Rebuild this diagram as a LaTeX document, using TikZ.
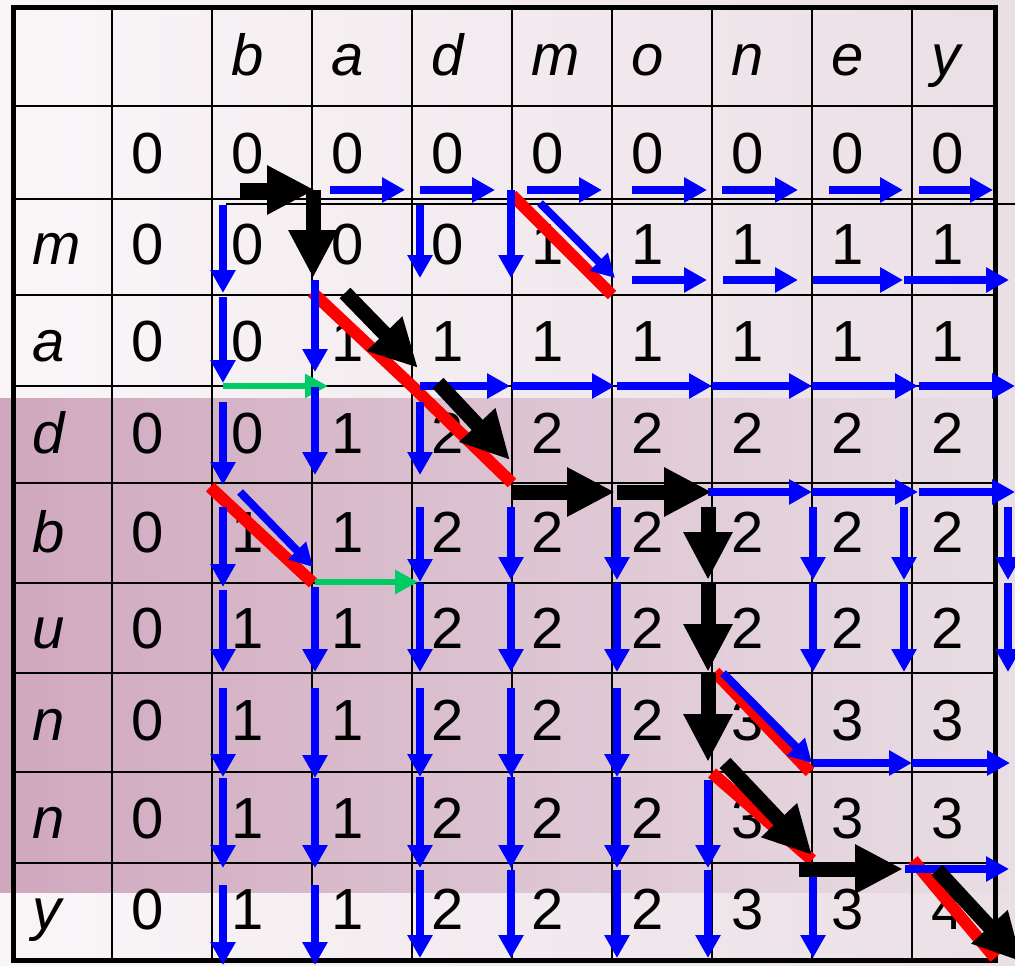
\documentclass[tikz,border=0pt]{standalone}
\usepackage{fontspec}
\setmainfont{Liberation Sans}
\usetikzlibrary{arrows.meta}
\definecolor{bgL}{HTML}{FAF6F8}
\definecolor{bgR}{HTML}{EADFE5}
\definecolor{bandL}{HTML}{D0A8BE}
\definecolor{bandM}{HTML}{D9B9CA}
\definecolor{bandR}{HTML}{E9DEE4}
\definecolor{arrgreen}{HTML}{00CC66}
\newcommand\myH[6]{\draw[#1] ([shift={(#4,#6)}]n#2) -- ([shift={(#5,#6)}]n#3);}
\newcommand\myV[6]{\draw[#1] ([shift={(#6,#4)}]n#2) -- ([shift={(#6,#5)}]n#3);}
\begin{document}
\begin{tikzpicture}[x=1pt,y=-1pt,
  barr/.style={draw=blue, line width=8pt, -{Triangle[length=23pt,width=24pt]}},
  karr/.style={draw=black, line width=15pt, -{Triangle[length=48pt,width=46pt]}},
  garr/.style={draw=arrgreen, line width=6pt, -{Triangle[length=23pt,width=23pt]}},
  redl/.style={draw=red, line width=12pt},
  gridl/.style={draw=black, line width=2pt},
  lbl/.style={anchor=base west, inner sep=0pt},
  numfont/.style={font=\fontsize{58}{60}\selectfont},
  letfont/.style={font=\fontsize{58}{60}\selectfont\itshape}]
\useasboundingbox (0,0) rectangle (1015,966);
% background
\fill[left color=bgL, right color=bgR] (0,0) rectangle (1015,966);
\fill[left color=bandL, middle color=bandM, right color=bandR] (0,398) rectangle (1015,892);
% grid
\foreach \x in {112,212,312,412,512,612,712,812,912} \draw[gridl] (\x,8) -- (\x,960);
\foreach \y in {106,199,295,386,483,583,673,772,863} \draw[gridl] (13,\y) -- (995,\y);
\draw[line width=1.5pt] (226,204) -- (1015,204);
\draw[line width=5pt] (13,8) rectangle (995,960);
% grid points of the edit graph
\foreach \yy [count=\i from 0] in {199,295,386,483,583,673,772,863,960}
  \foreach \j in {0,...,8}
    \coordinate (n\i\j) at ({212+100*\j},\yy);
\coordinate (corner) at (995,960);
% labels
\foreach \c [count=\k from 0] in {b,a,d,m,o,n,e,y}
  \node[lbl,letfont] (h\k) at ({231+100*\k},75) {\c};
\foreach \c/\yy [count=\k] in {m/264,a/361,d/453,b/552,u/648,n/740,n/838,y/929}
  \node[lbl,letfont] (r\k) at (32,\yy) {\c};
\foreach \yy/\vals [count=\i from 0] in {173/{0,0,0,0,0,0,0,0,0},264/{0,0,0,0,1,1,1,1,1},361/{0,0,1,1,1,1,1,1,1},453/{0,0,1,2,2,2,2,2,2},552/{0,1,1,2,2,2,2,2,2},648/{0,1,1,2,2,2,2,2,2},740/{0,1,1,2,2,2,3,3,3},838/{0,1,1,2,2,2,3,3,3},929/{0,1,1,2,2,2,3,3,4}}
  \foreach \v [count=\j from 0] in \vals
    \node[lbl,numfont] (v\i\j) at ({131+100*\j},\yy) {\v};
% red match diagonals
\draw[redl] ([shift={(0,-4)}]n03) -- (n14);
\draw[redl] ([shift={(0,-3)}]n11) -- (n22) -- (n33);
\draw[redl] ([shift={(-2,4)}]n30) -- ([shift={(1,0)}]n41);
\draw[redl] ([shift={(3,-1)}]n55) -- ([shift={(-2,0)}]n66);
\draw[redl] ([shift={(0,1)}]n65) -- ([shift={(0,-3)}]n76);
\draw[redl] ([shift={(1,-3)}]n77) -- ([shift={(0,-2)}]corner);
% blue horizontal arrows
\myH{barr}{01}{02}{18}{-7}{-9}
\myH{barr}{02}{03}{8}{-17}{-9}
\myH{barr}{03}{04}{15}{-10}{-9}
\myH{barr}{04}{05}{20}{-5}{-9}
\myH{barr}{05}{06}{10}{-14}{-9}
\myH{barr}{06}{07}{17}{-9}{-9}
\myH{barr}{07}{08}{7}{-19}{-9}
\myH{barr}{14}{15}{20}{-5}{-15}
\myH{barr}{15}{16}{11}{-14}{-15}
\myH{barr}{16}{17}{1}{-9}{-15}
\myH{barr}{17}{18}{-8}{-3}{-15}
\myH{barr}{22}{23}{8}{-2}{0}
\myH{barr}{23}{24}{0}{3}{0}
\myH{barr}{24}{25}{5}{0}{0}
\myH{barr}{25}{26}{0}{0}{0}
\myH{barr}{26}{27}{0}{6}{0}
\myH{barr}{27}{28}{7}{3}{0}
\myH{barr}{35}{36}{-4}{0}{9}
\myH{barr}{36}{37}{0}{6}{9}
\myH{barr}{37}{38}{7}{3}{9}
\myH{barr}{66}{67}{1}{0}{-9}
\myH{barr}{67}{68}{0}{-2}{-9}
\myH{barr}{77}{78}{-7}{-3}{6}
% green horizontal arrows
\myH{garr}{20}{21}{11}{16}{0}
\myH{garr}{41}{42}{3}{6}{-1}
% blue vertical arrows
\myV{barr}{00}{10}{6}{-2}{11}
\myV{barr}{10}{20}{2}{-3}{11}
\myV{barr}{20}{30}{16}{2}{11}
\myV{barr}{30}{40}{24}{4}{11}
\myV{barr}{40}{50}{7}{-1}{11}
\myV{barr}{50}{60}{15}{5}{11}
\myV{barr}{60}{70}{6}{5}{11}
\myV{barr}{70}{80}{22}{5}{11}
\myV{barr}{11}{21}{-15}{-14}{3}
\myV{barr}{21}{31}{1}{-8}{3}
\myV{barr}{41}{51}{4}{-1}{3}
\myV{barr}{51}{61}{15}{6}{3}
\myV{barr}{61}{71}{6}{5}{3}
\myV{barr}{71}{81}{22}{5}{3}
\myV{barr}{02}{12}{6}{-17}{8}
\myV{barr}{22}{32}{16}{-8}{8}
\myV{barr}{32}{42}{24}{-1}{8}
\myV{barr}{42}{52}{0}{-1}{8}
\myV{barr}{52}{62}{15}{5}{8}
\myV{barr}{62}{72}{5}{5}{8}
\myV{barr}{72}{82}{7}{-2}{8}
\myV{barr}{03}{13}{-9}{-17}{-1}
\myV{barr}{33}{43}{24}{-3}{-1}
\myV{barr}{43}{53}{0}{-1}{-1}
\myV{barr}{53}{63}{15}{5}{-1}
\myV{barr}{63}{73}{5}{5}{-1}
\myV{barr}{73}{83}{7}{-2}{-1}
\myV{barr}{34}{44}{24}{-3}{5}
\myV{barr}{44}{54}{0}{-1}{5}
\myV{barr}{54}{64}{15}{5}{5}
\myV{barr}{64}{74}{5}{5}{5}
\myV{barr}{74}{84}{7}{-2}{5}
\myV{barr}{65}{75}{8}{5}{-4}
\myV{barr}{75}{85}{7}{-2}{-4}
\myV{barr}{36}{46}{24}{-3}{1}
\myV{barr}{46}{56}{0}{-1}{1}
\myV{barr}{76}{86}{7}{-2}{1}
\myV{barr}{37}{47}{24}{-3}{-8}
\myV{barr}{47}{57}{0}{-1}{-8}
\myV{barr}{38}{48}{24}{-3}{-4}
\myV{barr}{48}{58}{0}{-1}{-4}
% blue diagonal arrows
\draw[barr] ([shift={(28,4)}]n03) -- ([shift={(3,-17)}]n14);
\draw[barr] ([shift={(28,9)}]n30) -- ([shift={(1,-16)}]n41);
\draw[barr] ([shift={(11,0)}]n55) -- ([shift={(0,-9)}]n66);
% black path
\myH{karr}{00}{01}{28}{3}{-9}
\myV{karr}{01}{11}{-9}{-17}{1}
\draw[karr] ([shift={(33,-2)}]n11) -- ([shift={(6,-18)}]n22);
\draw[karr] ([shift={(26,-3)}]n22) -- ([shift={(-2,-23)}]n33);
\myH{karr}{33}{34}{0}{3}{9}
\myH{karr}{34}{35}{5}{0}{9}
\myV{karr}{35}{45}{24}{-3}{-4}
\myV{karr}{45}{55}{-1}{-1}{-4}
\myV{karr}{55}{65}{0}{-10}{-4}
\draw[karr] ([shift={(13,-9)}]n65) -- ([shift={(0,-8)}]n76);
\myH{karr}{76}{77}{-13}{-9}{6}
\draw[karr] ([shift={(25,7)}]n77) -- ([shift={(10,2)}]n88);
\end{tikzpicture}
\end{document}
